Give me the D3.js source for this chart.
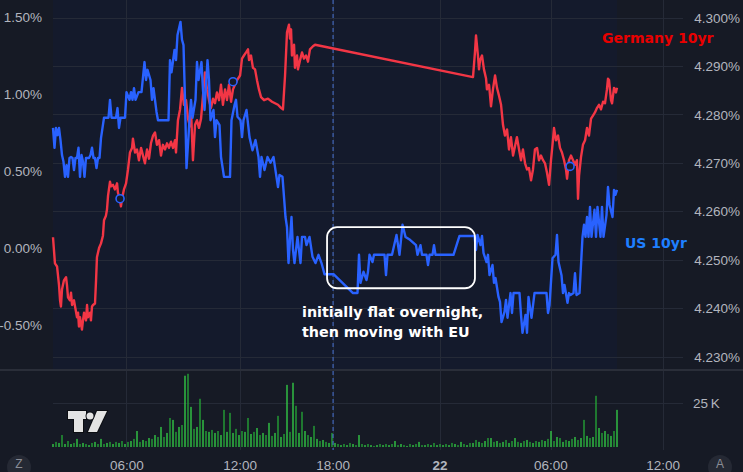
<!DOCTYPE html>
<html><head><meta charset="utf-8">
<script src="https://cdn.jsdelivr.net/npm/d3@7"></script>
<style>html,body{margin:0;padding:0;background:#161a25;overflow:hidden}</style>
</head><body><svg id="c" width="743" height="472"></svg>
<script>
// x unit: 5-minute bar index from the first bar of the chart
const germany10yr = [[0,0.07],[1.3,-0.10],[2.7,-0.12],[4,-0.24],[4.7,-0.34],[5.3,-0.38],[6,-0.27],[7.3,-0.21],[8.7,-0.19],[9.3,-0.24],[10,-0.32],[11.3,-0.34],[12,-0.29],[12.7,-0.37],[14,-0.34],[14.7,-0.38],[16,-0.45],[16.7,-0.42],[17.3,-0.51],[18,-0.45],[19.3,-0.53],[20,-0.47],[20.7,-0.42],[22,-0.47],[22.7,-0.37],[23.3,-0.45],[24.7,-0.42],[25.3,-0.47],[26,-0.38],[26.7,-0.37],[28,-0.36],[28.7,-0.21],[29.3,-0.06],[30.7,0.00],[32,0.03],[33.3,0.08],[34,0.18],[35.3,0.21],[36,0.25],[36.7,0.34],[38,0.43],[38.7,0.40],[40,0.41],[41.3,0.38],[42.7,0.42],[43.3,0.36],[44.7,0.31],[45.3,0.27],[46,0.32],[47.3,0.38],[48.7,0.42],[50,0.51],[51.3,0.62],[52.7,0.65],[53.3,0.71],[54.7,0.62],[56,0.64],[57.3,0.57],[58.7,0.65],[60,0.60],[61.3,0.55],[62.7,0.64],[64,0.58],[65.3,0.68],[66.7,0.73],[68,0.75],[69.3,0.67],[70.7,0.70],[72,0.60],[73.3,0.67],[74.7,0.64],[76,0.68],[77.3,0.65],[78.7,0.69],[80,0.65],[81.3,0.70],[82,0.62],[83.3,0.83],[84.7,0.90],[86,1.04],[87.3,0.93],[88.7,0.96],[90,0.84],[91.3,0.79],[92,0.90],[93.3,0.57],[94.7,0.80],[96,0.83],[97.3,0.78],[98.7,0.84],[100,0.99],[101.3,1.14],[102.7,1.03],[104,0.96],[105.3,0.91],[106.7,0.97],[108,0.94],[109.3,1.01],[110.7,0.96],[112,1.06],[113.3,0.93],[114.7,1.03],[116,0.96],[117.3,1.06],[118.7,0.95],[120,1.03],[121.3,1.06],[122.7,1.09],[124.7,1.12],[126,1.23],[127.3,1.25],[128.7,1.27],[130,1.29],[130.7,1.22],[132,1.25],[133.3,1.17],[134.7,1.16],[136,1.09],[137.3,1.03],[138.7,0.98],[140.7,0.96],[143.3,0.97],[146,0.95],[148,0.94],[150,0.93],[152,0.91],[153.3,0.90],[154.7,1.12],[156,1.40],[157.3,1.45],[158,1.36],[158.7,1.42],[159.3,1.25],[160.7,1.32],[161.3,1.17],[162.7,1.25],[163.3,1.16],[164.7,1.22],[166,1.27],[167.3,1.23],[168.7,1.25],[170,1.21],[171.3,1.29],[173.3,1.31],[174.7,1.32],[280,1.11],[281.3,1.27],[282,1.38],[283.3,1.25],[284,1.16],[284.7,1.22],[286,1.25],[287.3,1.16],[288.7,1.10],[289.3,1.03],[290.7,1.06],[292,0.92],[293.3,1.03],[294.7,1.12],[296,1.04],[297.3,0.99],[298.7,0.93],[300,0.80],[301.3,0.73],[302.7,0.77],[304,0.64],[305.3,0.72],[306.7,0.60],[308,0.66],[309.3,0.72],[310.7,0.64],[312,0.57],[313.3,0.64],[314.7,0.55],[316,0.51],[317.3,0.52],[318.7,0.44],[320,0.51],[321.3,0.64],[322.7,0.65],[324,0.57],[325.3,0.60],[326.7,0.57],[328,0.55],[329.3,0.49],[330.7,0.41],[332,0.57],[333.3,0.70],[334,0.78],[335.3,0.70],[336.7,0.73],[338,0.65],[339.3,0.62],[340.7,0.57],[342,0.51],[342.7,0.45],[344,0.57],[345.3,0.60],[346.7,0.57],[348,0.54],[349.3,0.57],[350,0.32],[350.7,0.47],[352,0.59],[353.3,0.67],[354.7,0.70],[356,0.78],[357.3,0.73],[358.7,0.84],[360,0.86],[361.3,0.88],[362.7,0.91],[364,0.93],[365.3,0.90],[366.7,0.95],[368,0.94],[369.3,1.03],[370,1.10],[370.7,1.09],[372,0.96],[372.7,0.94],[374,1.04],[375.3,1.01],[376,1.04]];

const us10yr = [[0,4.2773],[1,4.2732],[2,4.2773],[3,4.2758],[4,4.2773],[5,4.2748],[6,4.2717],[7,4.2703],[8,4.2672],[9,4.2696],[10,4.2672],[11,4.2711],[12,4.2713],[13,4.2711],[14,4.2686],[15,4.2711],[16,4.2711],[17,4.2732],[18,4.2672],[19,4.2717],[20,4.2703],[21,4.2672],[22,4.2711],[24,4.2711],[25,4.2717],[26,4.2732],[27,4.2711],[28,4.2711],[29,4.2690],[30,4.2711],[31,4.2711],[32,4.2752],[33,4.2773],[34,4.2794],[37,4.2794],[38,4.2831],[39,4.2794],[42,4.2794],[43,4.2814],[44,4.2773],[45,4.2794],[48,4.2794],[49,4.2847],[51,4.2831],[52,4.2847],[53,4.2831],[54,4.2855],[55,4.2831],[57,4.2847],[59,4.2847],[61,4.2909],[62,4.2872],[63,4.2893],[65,4.2872],[66,4.2831],[67,4.2855],[69,4.2806],[70,4.2789],[77,4.2789],[78,4.2913],[79,4.2888],[81,4.2934],[82,4.2913],[83,4.2965],[85,4.2992],[86,4.2955],[87,4.2944],[88,4.2831],[89,4.2690],[91,4.2789],[92,4.2831],[93,4.2794],[95,4.2831],[96,4.2909],[97,4.2872],[99,4.2909],[100,4.2851],[101,4.2810],[103,4.2913],[104,4.2872],[105,4.2789],[107,4.2810],[108,4.2754],[109,4.2789],[111,4.2779],[112,4.2713],[114,4.2672],[118,4.2672],[119,4.2789],[121,4.2820],[122,4.2831],[123,4.2796],[125,4.2789],[126,4.2754],[127,4.2789],[129,4.2810],[131,4.2754],[133,4.2727],[135,4.2748],[137,4.2713],[138,4.2672],[139,4.2713],[141,4.2686],[143,4.2713],[145,4.2701],[147,4.2713],[148,4.2692],[150,4.2651],[151,4.2676],[153,4.2672],[155,4.2589],[156,4.2568],[157,4.2494],[159,4.2589],[160,4.2521],[161,4.2494],[163,4.2548],[165,4.2494],[166,4.2548],[168,4.2548],[169,4.2531],[171,4.2548],[173,4.2507],[175,4.2494],[177,4.2511],[179,4.2494],[181,4.2471],[187,4.2471],[200,4.2432],[203,4.2432],[204,4.2511],[205,4.2453],[207,4.2476],[209,4.2459],[210,4.2476],[211,4.2511],[213,4.2496],[214,4.2511],[221,4.2511],[222,4.2469],[223,4.2511],[226,4.2511],[229,4.2552],[231,4.2511],[233,4.2573],[235,4.2548],[238,4.2542],[242,4.2531],[243,4.2511],[245,4.2531],[246,4.2511],[249,4.2511],[250,4.2490],[251,4.2511],[253,4.2511],[254,4.2531],[255,4.2511],[267,4.2511],[271,4.2550],[281,4.2550],[282,4.2521],[283,4.2552],[285,4.2531],[286,4.2550],[287,4.2515],[289,4.2496],[290,4.2511],[291,4.2469],[293,4.2490],[294,4.2453],[295,4.2463],[297,4.2424],[298,4.2414],[299,4.2372],[301,4.2393],[302,4.2418],[303,4.2381],[305,4.2432],[306,4.2391],[307,4.2432],[311,4.2432],[312,4.2387],[313,4.2350],[315,4.2387],[316,4.2350],[317,4.2424],[319,4.2381],[321,4.2432],[329,4.2432],[330,4.2391],[331,4.2407],[333,4.2504],[335,4.2511],[336,4.2552],[337,4.2496],[339,4.2469],[340,4.2432],[341,4.2449],[343,4.2412],[344,4.2432],[345,4.2428],[347,4.2432],[348,4.2473],[349,4.2428],[351,4.2432],[353,4.2548],[354,4.2573],[355,4.2548],[356,4.2589],[357,4.2548],[358,4.2610],[359,4.2548],[361,4.2604],[362,4.2548],[363,4.2610],[365,4.2548],[366,4.2610],[367,4.2548],[369,4.2593],[370,4.2651],[371,4.2614],[373,4.2589],[374,4.2645],[375,4.2635],[376,4.2645]];

// volume (thousands), one value every 2 bars starting at bar 0
const volumeK = [1.7,2.9,2.3,6.8,1.7,3.4,1.7,2.3,4.6,1.7, 2.3,1.7,1.1,2.3,2.9,1.7,4.6,1.7,2.3,2.9, 1.7,2.9,2.3,3.4,1.7,2.9,3.4,4.6,9.1,2.9, 4.0,3.4,5.1,4.6,6.8,5.7,11.4,5.7,8.0,16.5, 15.4,8.6,11.4,12.5,40.5,41.6,22.8,10.3,11.4,27.4, 15.4,9.1,8.6,9.7,8.0,9.1,6.8,21.1,8.6,19.4, 8.0,10.3,6.8,9.1,8.6,16.5,7.4,8.6,10.8,6.8, 8.0,6.8,13.7,6.3,8.0,17.7,5.7,7.4,35.3,8.6, 36.5,23.4,8.0,20.0,9.1,6.8,5.7,12.0,4.6,3.4, 4.0,2.9,2.3,8.0,2.3,1.7,1.1,1.7,1.1,2.3, 1.7,1.1,6.8,1.7,1.1,1.7,1.1,0.6,1.1,1.7, 1.1,1.7,1.1,1.7,3.4,1.1,1.7,1.1,0.6,1.7, 1.1,1.7,2.9,1.1,1.1,1.7,1.1,2.3,1.1,1.7, 1.1,1.7,1.1,2.3,1.7,1.1,2.9,1.7,1.1,2.3, 2.3,4.0,2.9,2.3,3.4,5.1,5.1,2.9,3.4,2.3, 2.9,4.0,2.3,3.4,5.1,2.9,2.3,3.4,4.0,2.9, 2.3,3.4,2.9,4.0,3.4,4.6,9.1,3.4,5.7,5.1, 2.9,4.0,3.4,4.6,5.7,4.0,5.1,15.4,6.3,5.1, 5.7,29.1,10.8,8.0,9.1,7.4,6.3,9.1,21.1];
const volumeStep = 2;

const eventMarkers = [[44.7,0.32],[120,1.08],[344.7,0.53]];
const timeTicks = [49.3,124.7,186.7,258,332,406.7];
const timeLabels = ["06:00","12:00","18:00","22","06:00","12:00"];
const sessionBreak = 186.7;
const pctTicks = [-0.5,0,0.5,1.0,1.5];
const yieldTicks = [4.23,4.24,4.25,4.26,4.27,4.28,4.29,4.30];
const volumeTicks = [25];
const noteBox = {x0:182.7, x1:281.3, y0:4.2568, y1:4.2442};
const noteLines = ["initially flat overnight,","then moving with EU"];
const seriesNames = ["Germany 10yr","US 10yr"];

const W = 743, H = 472;
const svg = d3.select("#c");
const x = d3.scaleLinear().domain([0,420]).range([53,683]);
const yPct = d3.scaleLinear().domain([-0.5,1.5]).range([325,17]);
const yY = d3.scaleLinear().domain([4.23,4.30]).range([357,18]);
const yVol = d3.scaleLinear().domain([0,25]).range([447,403]);
const dataEnd = d3.max(us10yr, d=>d[0]);

const grid = "#252a37", txt = "#b2b5be", FONT = "'Liberation Sans', Arial, sans-serif";
svg.append("rect").attr("width",W).attr("height",H).attr("fill","#161a25");
svg.append("rect").attr("x",x(0)).attr("y",0).attr("width",x(dataEnd)-x(0)).attr("height",369).attr("fill","#141a2c");

// vertical grid
svg.append("g").selectAll("line").data(timeTicks).join("line")
  .attr("x1",d=>x(d)).attr("x2",d=>x(d)).attr("y1",0).attr("y2",450)
  .attr("stroke",grid).attr("stroke-width",1).attr("shape-rendering","crispEdges");
// horizontal grid (right scale)
svg.append("g").selectAll("line").data(yieldTicks).join("line")
  .attr("x1",53).attr("x2",683).attr("y1",d=>yY(d)).attr("y2",d=>yY(d))
  .attr("stroke",grid).attr("stroke-width",1).attr("shape-rendering","crispEdges");
svg.append("g").selectAll("line").data(volumeTicks).join("line")
  .attr("x1",53).attr("x2",683).attr("y1",d=>yVol(d)).attr("y2",d=>yVol(d))
  .attr("stroke",grid).attr("stroke-width",1).attr("shape-rendering","crispEdges");

// pane separator
svg.append("rect").attr("x",0).attr("y",369).attr("width",W).attr("height",2).attr("fill","#2a2e39");

// volume bars
svg.append("g").selectAll("rect").data(volumeK).join("rect")
  .attr("x",(d,i)=>x(i*volumeStep)-0.7).attr("width",1.4)
  .attr("y",d=>yVol(d)).attr("height",d=>yVol(0)-yVol(d))
  .attr("fill",(d,i)=>i%2?"#24a236":"#33c845");

// session break dashed
svg.append("line").attr("x1",x(sessionBreak)).attr("x2",x(sessionBreak)).attr("y1",0).attr("y2",450)
  .attr("stroke","#4f7ff0").attr("stroke-width",1).attr("stroke-dasharray","4,3").attr("opacity",0.85);

// lines
const lineG = d3.line().x(d=>x(d[0])).y(d=>yPct(d[1]));
const lineU = d3.line().x(d=>x(d[0])).y(d=>yY(d[1]));
svg.append("path").datum(germany10yr).attr("d",lineG).attr("fill","none")
  .attr("stroke","#f23645").attr("stroke-width",2.4).attr("stroke-linejoin","round");
svg.append("path").datum(us10yr).attr("d",lineU).attr("fill","none")
  .attr("stroke","#2962ff").attr("stroke-width",2.4).attr("stroke-linejoin","round");

// event markers
svg.append("g").selectAll("circle").data(eventMarkers).join("circle")
  .attr("cx",d=>x(d[0])).attr("cy",d=>yPct(d[1])).attr("r",4)
  .attr("fill","#161b2b").attr("stroke","#2962ff").attr("stroke-width",1.6);

// annotation box
svg.append("rect").attr("x",x(noteBox.x0)).attr("y",yY(noteBox.y0))
  .attr("width",x(noteBox.x1)-x(noteBox.x0)).attr("height",yY(noteBox.y1)-yY(noteBox.y0))
  .attr("rx",10).attr("fill","none").attr("stroke","#ffffff").attr("stroke-width",1.8);
svg.append("g").selectAll("text").data(noteLines).join("text")
  .attr("x",302).attr("y",(d,i)=>317+i*19.5).text(d=>d)
  .attr("fill","#ffffff").attr("font-family","'DejaVu Sans', sans-serif").attr("font-weight","bold").attr("font-size",14.3);

// series labels
svg.append("text").attr("x",602).attr("y",43).text(seriesNames[0])
  .attr("fill","#e80000").attr("font-family","'DejaVu Sans', sans-serif").attr("font-weight","bold").attr("font-size",14);
svg.append("text").attr("x",625).attr("y",248).text(seriesNames[1])
  .attr("fill","#1e7fff").attr("font-family","'DejaVu Sans', sans-serif").attr("font-weight","bold").attr("font-size",14);

// left axis labels
svg.append("g").selectAll("text").data(pctTicks).join("text")
  .attr("x",42).attr("y",d=>yPct(d)).attr("dy","0.35em").attr("text-anchor","end")
  .text(d=>d.toFixed(2)+"%").attr("fill",txt).attr("font-family",FONT).attr("font-size",13.5);
// right axis labels
svg.append("g").selectAll("text").data(yieldTicks).join("text")
  .attr("x",740).attr("y",d=>yY(d)).attr("dy","0.35em").attr("text-anchor","end")
  .text(d=>d.toFixed(3)+"%").attr("fill",txt).attr("font-family",FONT).attr("font-size",13.5);
svg.append("g").selectAll("text").data(volumeTicks).join("text")
  .attr("x",693).attr("y",d=>yVol(d)).attr("dy","0.35em")
  .text(d=>d+"\u2009K").attr("fill",txt).attr("font-family",FONT).attr("font-size",13.5);
// time labels
svg.append("g").selectAll("text").data(timeTicks).join("text")
  .attr("x",d=>x(d)).attr("y",465).attr("dy","0.35em").attr("text-anchor","middle")
  .text((d,i)=>timeLabels[i]).attr("font-weight",(d,i)=>timeLabels[i]==="22"?"bold":"normal")
  .attr("fill",txt).attr("font-family",FONT).attr("font-size",13.5);

// corner buttons
[[19,"Z"],[720,"A"]].forEach(([cx,t])=>{
  svg.append("circle").attr("cx",cx).attr("cy",467).attr("r",12).attr("fill","#252934");
  svg.append("text").attr("x",cx).attr("y",464).attr("dy","0.35em").attr("text-anchor","middle")
    .text(t).attr("fill","#8a8d96").attr("font-family",FONT).attr("font-size",12);
});

// logo
const logo = svg.append("g");
const tPath = "M68,411H86V419H83V432H74V419H68Z";
const sPath = "M97,411H107L97,432H88Z";
[tPath,sPath].forEach(p=>logo.append("path").attr("d",p).attr("fill","#e3e3e3").attr("stroke","#0b0d12").attr("stroke-width",2).attr("paint-order","stroke"));
logo.append("circle").attr("cx",90).attr("cy",416).attr("r",3.5).attr("fill","#e3e3e3").attr("stroke","#0b0d12").attr("stroke-width",2).attr("paint-order","stroke");
</script></body></html>
